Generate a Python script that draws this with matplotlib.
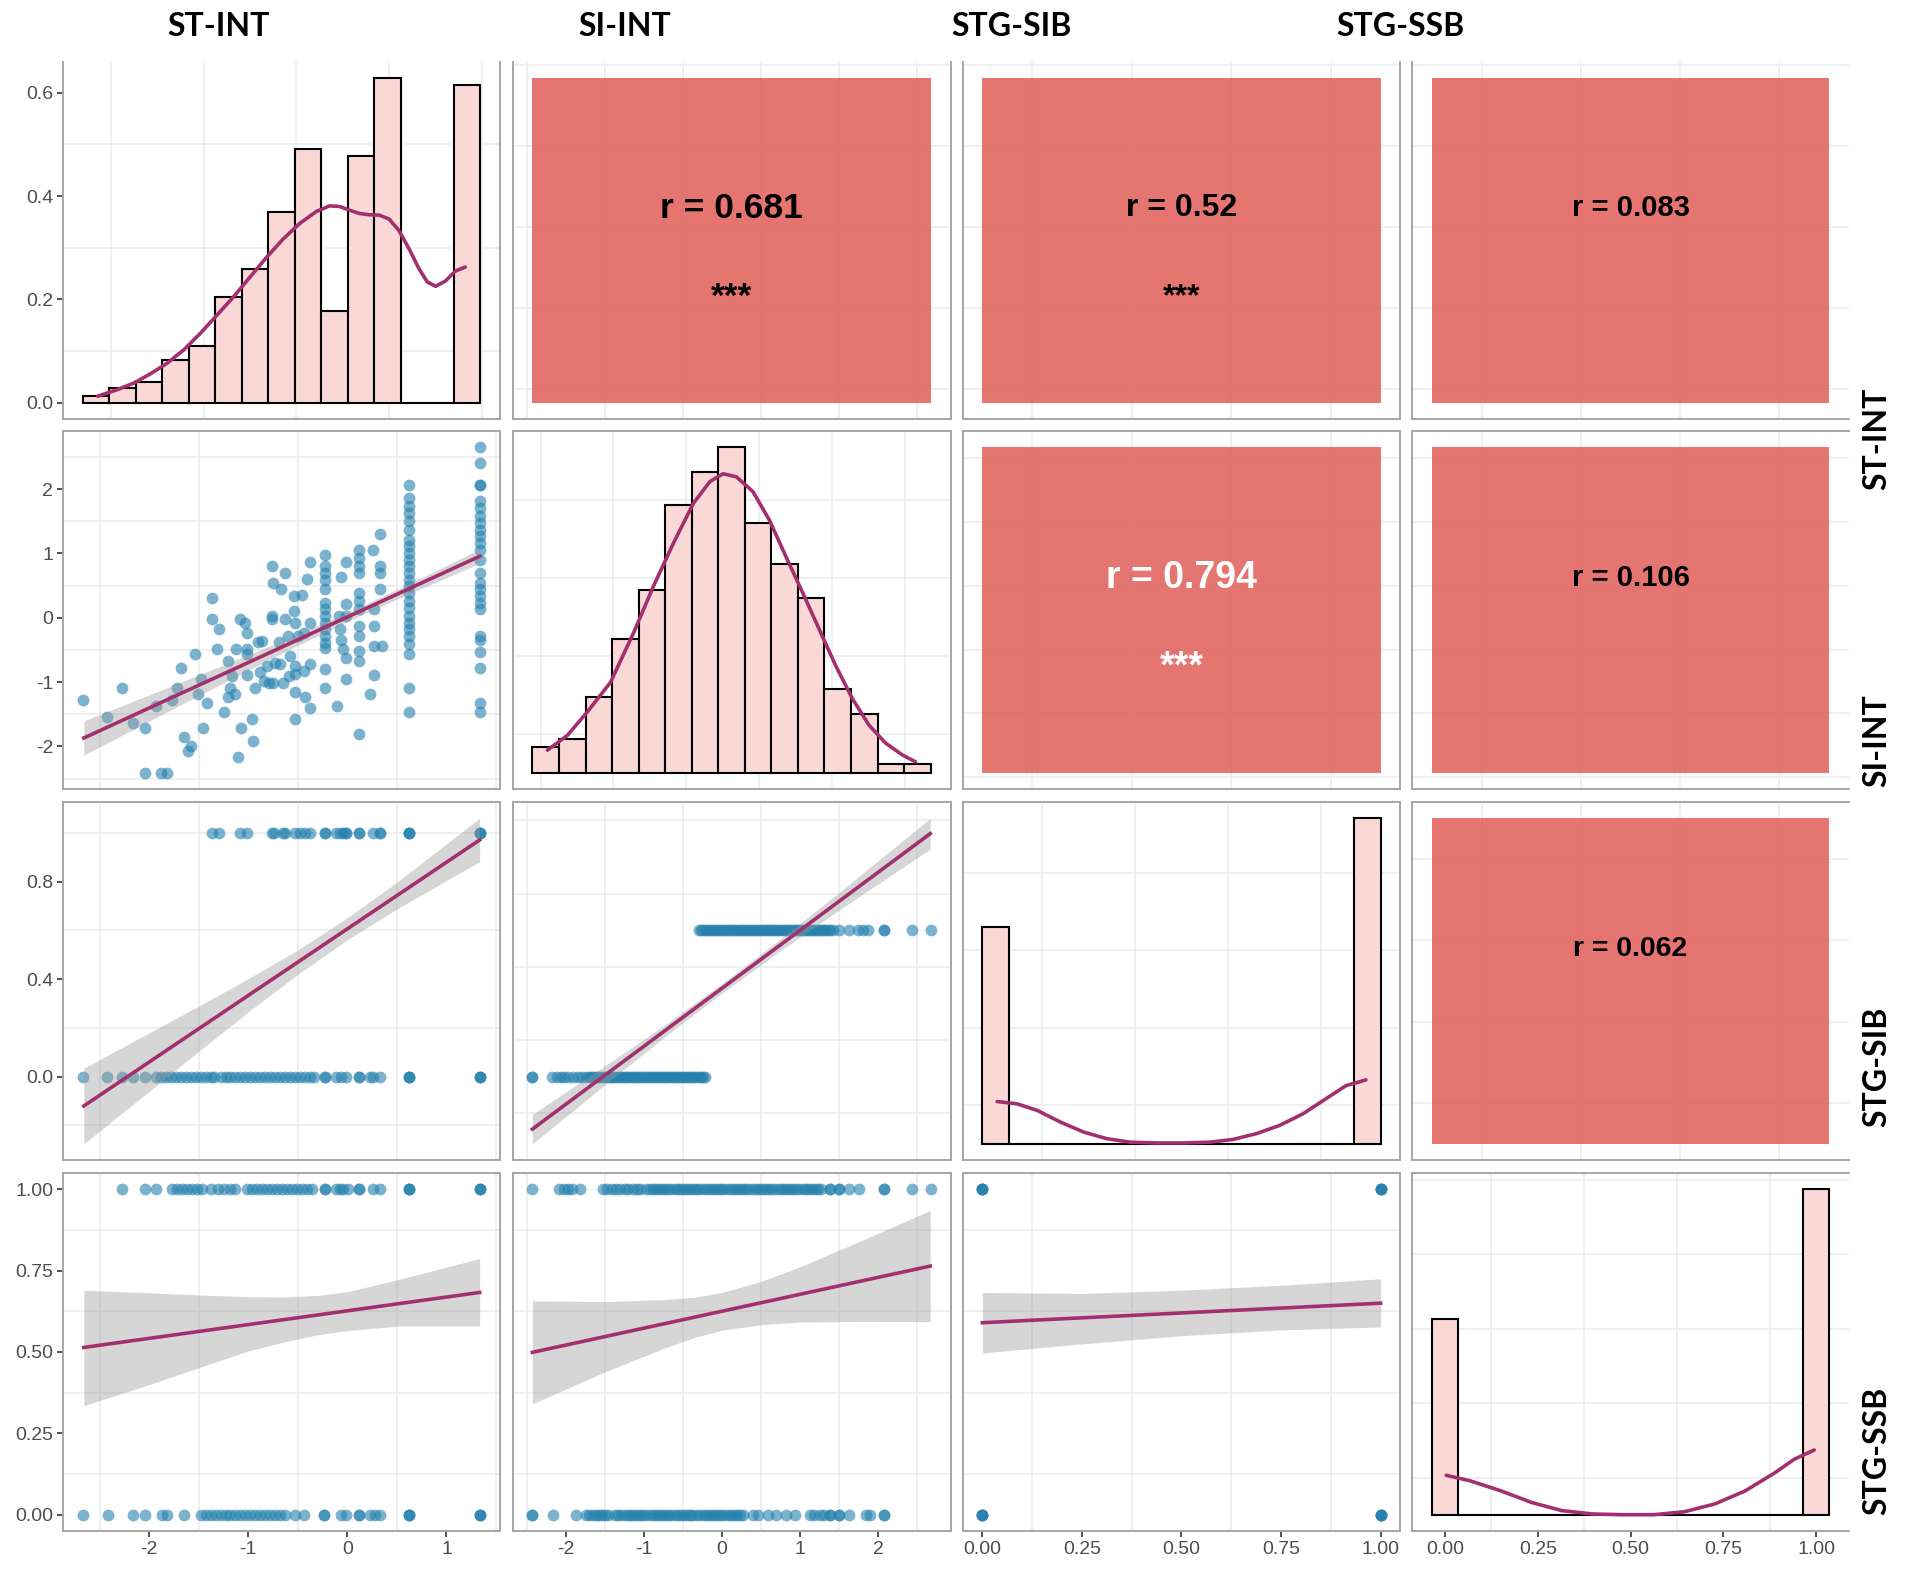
import matplotlib
matplotlib.use("Agg")
import matplotlib.pyplot as plt
from matplotlib import patches

# ---------------- data ----------------
var_names = ['ST-INT', 'SI-INT', 'STG-SIB', 'STG-SSB']

# axis breaks per variable
var_breaks = {
    'ST-INT': [-2, -1, 0, 1],
    'SI-INT': [-2, -1, 0, 1, 2],
    'STG-SIB': [0, 0.25, 0.5, 0.75, 1.0],
    'STG-SSB': [0, 0.25, 0.5, 0.75, 1.0],
}
x_tick_labels = [['-2', '-1', '0', '1'],
                 ['-2', '-1', '0', '1', '2'],
                 ['0.00', '0.25', '0.50', '0.75', '1.00'],
                 ['0.00', '0.25', '0.50', '0.75', '1.00']]
y_tick_values = [[0, 0.2, 0.4, 0.6],
                 [-2, -1, 0, 1, 2],
                 [0, 0.4, 0.8],
                 [0, 0.25, 0.5, 0.75, 1.0]]
y_tick_labels = [['0.0', '0.2', '0.4', '0.6'],
                 ['-2', '-1', '0', '1', '2'],
                 ['0.0', '0.4', '0.8'],
                 ['0.00', '0.25', '0.50', '0.75', '1.00']]
density_breaks = [[0, 0.2, 0.4, 0.6], [0, 0.1, 0.2, 0.3, 0.4], [0, 2, 4, 6, 8], [0, 2, 4, 6, 8]]

# histograms (density scale), 15 bins each
hist_left = [-2.803, -2.612, -0.0357, -0.0357]
hist_width = [0.2857, 0.3643, 0.0714, 0.0714]
hist_heights = [
    [0.014, 0.029, 0.040, 0.083, 0.110, 0.205, 0.259, 0.370, 0.492, 0.178, 0.478, 0.628, 0, 0, 0.615],
    [0.033, 0.043, 0.097, 0.172, 0.235, 0.344, 0.386, 0.418, 0.321, 0.268, 0.225, 0.108, 0.076, 0.011, 0.011],
    [5.59, 0, 0, 0, 0, 0, 0, 0, 0, 0, 0, 0, 0, 0, 8.41],
    [5.25, 0, 0, 0, 0, 0, 0, 0, 0, 0, 0, 0, 0, 0, 8.75],
]
dens_x = [
    [-2.643, -2.428, -2.250, -2.071, -1.892, -1.714, -1.535, -1.356, -1.178, -0.999, -0.820, -0.642,
     -0.463, -0.285, -0.142, -0.034, 0.073, 0.180, 0.287, 0.394, 0.501, 0.608, 0.716, 0.823, 0.912,
     1.002, 1.109, 1.216, 1.323],
    [-2.405, -2.132, -1.859, -1.541, -1.222, -0.949, -0.676, -0.403, -0.176, 0.006, 0.188, 0.415,
     0.643, 0.870, 1.098, 1.325, 1.553, 1.780, 2.008, 2.235, 2.463, 2.645],
    [0.004, 0.058, 0.112, 0.174, 0.237, 0.299, 0.362, 0.433, 0.504, 0.576, 0.638, 0.701, 0.763,
     0.826, 0.888, 0.942, 0.996],
    [0.003, 0.068, 0.151, 0.233, 0.315, 0.398, 0.480, 0.562, 0.645, 0.727, 0.809, 0.891, 0.941, 0.995],
]
dens_y = [
    [0.0128, 0.0256, 0.0384, 0.0564, 0.0768, 0.1025, 0.1345, 0.1697, 0.2049, 0.2434, 0.2818, 0.3170,
     0.3471, 0.3701, 0.3810, 0.3798, 0.3727, 0.3663, 0.3638, 0.3631, 0.3555, 0.3330, 0.2978, 0.2594,
     0.2338, 0.2254, 0.2357, 0.2549, 0.2626],
    [0.029, 0.048, 0.078, 0.116, 0.180, 0.240, 0.295, 0.346, 0.374, 0.384, 0.380, 0.361, 0.324,
     0.277, 0.231, 0.184, 0.137, 0.095, 0.061, 0.038, 0.023, 0.014],
    [1.09, 1.03, 0.86, 0.56, 0.30, 0.13, 0.04, 0.02, 0.02, 0.04, 0.11, 0.26, 0.47, 0.77, 1.16, 1.50, 1.65],
    [1.06, 0.91, 0.64, 0.33, 0.11, 0.02, 0.0, 0.0, 0.08, 0.29, 0.64, 1.14, 1.49, 1.74],
]

# ST-INT vs SI-INT
st_si_pairs = [
    (-2.67, -1.28), (-2.43, -1.54), (-2.27, -1.09), (-2.16, -1.63), (-2.04, -1.72), (-2.04, -2.41),
    (-1.93, -1.37), (-1.88, -2.41), (-1.82, -2.41), (-1.77, -1.28), (-1.72, -1.09), (-1.68, -0.78),
    (-1.65, -1.86), (-1.61, -2.07), (-1.58, -1.99), (-1.54, -0.57), (-1.51, -1.18), (-1.48, -0.96),
    (-1.46, -1.72), (-1.42, -1.33), (-1.37, 0.30), (-1.37, -0.02), (-1.32, -0.49), (-1.30, -0.18),
    (-1.25, -1.47), (-1.21, -0.67), (-1.20, -1.24), (-1.18, -1.09), (-1.16, -0.91), (-1.13, -1.18),
    (-1.12, -0.49), (-1.10, -2.16), (-1.08, -0.02), (-1.07, -1.72), (-1.03, -0.08), (-1.01, -0.23),
    (-1.01, -0.49), (-1.01, -0.57), (-1.01, -0.89), (-0.96, -1.58), (-0.95, -1.91), (-0.93, -1.09),
    (-0.90, -0.38), (-0.88, -0.85), (-0.86, -0.36), (-0.84, -0.98), (-0.81, -0.75), (-0.79, -1.01),
    (-0.76, 0.02), (-0.76, -0.02), (-0.76, 0.81), (-0.75, 0.54), (-0.75, -1.01), (-0.73, -0.70),
    (-0.69, -0.38), (-0.68, -0.72), (-0.67, 0.45), (-0.65, -1.01), (-0.63, 0.70), (-0.63, -0.02),
    (-0.60, -0.29), (-0.59, -0.91), (-0.58, -0.60), (-0.54, 0.10), (-0.54, 0.34), (-0.53, -0.75),
    (-0.53, -0.08), (-0.53, -1.16), (-0.53, -1.58), (-0.53, -0.88), (-0.50, -0.29), (-0.46, 0.36),
    (-0.44, -0.23), (-0.44, -0.83), (-0.43, -1.24), (-0.41, 0.60), (-0.38, 0.86), (-0.38, -0.08),
    (-0.38, -0.72), (-0.38, -1.40),
    (-0.23, 0.97), (-0.23, 0.80), (-0.23, 0.70), (-0.23, 0.59), (-0.23, 0.44), (-0.23, 0.23),
    (-0.23, 0.13), (-0.23, 0.02), (-0.23, -0.08), (-0.23, -0.18), (-0.23, -0.29), (-0.23, -0.39),
    (-0.23, -0.47), (-0.23, -0.80), (-0.23, -1.09),
    (-0.10, -1.38), (-0.08, 0.02), (-0.07, -0.18), (-0.06, 0.64), (-0.06, -0.34), (-0.04, -0.49),
    (-0.01, 0.02), (-0.01, 0.86), (-0.01, 0.21), (-0.01, -0.62), (-0.01, -0.96),
    (0.12, 1.06), (0.12, 0.93), (0.12, 0.80), (0.12, 0.70), (0.12, 0.39), (0.12, 0.26),
    (0.12, 0.13), (0.12, -0.13), (0.12, -0.29), (0.12, -0.52), (0.12, -0.67), (0.12, -1.81),
    (0.23, -1.18), (0.26, 1.06), (0.27, 0.14), (0.27, -0.13), (0.27, -0.44), (0.27, -0.89),
    (0.33, 1.30), (0.33, 0.80), (0.33, 0.70), (0.33, 0.45), (0.35, -0.44),
    (0.62, 2.06), (0.62, 1.86), (0.62, 1.73), (0.62, 1.63), (0.62, 1.50), (0.62, 1.37),
    (0.62, 1.21), (0.62, 1.11), (0.62, 1.01), (0.62, 0.90), (0.62, 0.80), (0.62, 0.70),
    (0.62, 0.59), (0.62, 0.49), (0.62, 0.39), (0.62, 0.26), (0.62, 0.15), (0.62, 0.02),
    (0.62, -0.08), (0.62, -0.18), (0.62, -0.29), (0.62, -0.41), (0.62, -0.57), (0.62, -1.09),
    (0.62, -1.47),
    (1.34, 2.65), (1.34, 2.41), (1.34, 2.06), (1.34, 2.06), (1.34, 1.81), (1.34, 1.70),
    (1.34, 1.58), (1.34, 1.47), (1.34, 1.37), (1.34, 1.27), (1.34, 1.16), (1.34, 1.06),
    (1.34, 0.90), (1.34, 0.70), (1.34, 0.54), (1.34, 0.44), (1.34, 0.34), (1.34, 0.23),
    (1.34, 0.13), (1.34, -0.29), (1.34, -0.34), (1.34, -0.54), (1.34, -0.78), (1.34, -1.32),
    (1.34, -1.47),
]

# ST-INT by STG-SIB group
st_sib1 = [-1.37, -1.30, -1.08, -1.01, -0.76, -0.74, -0.65, -0.63, -0.53, -0.48, -0.43, -0.38,
           -0.23, -0.23, -0.11, -0.07, -0.04, -0.01, -0.01, 0.12, 0.12, 0.26, 0.33, 0.33,
           0.62, 0.62, 0.62, 1.34, 1.34, 1.34]
st_sib0 = [-2.67, -2.43, -2.27, -2.16, -2.04, -1.93, -1.88, -1.83, -1.78, -1.73, -1.68, -1.63,
           -1.58, -1.53, -1.48, -1.43, -1.38, -1.35, -1.28, -1.23, -1.18, -1.13, -1.08, -1.03,
           -0.98, -0.93, -0.88, -0.83, -0.78, -0.73, -0.68, -0.63, -0.58, -0.53, -0.48, -0.43,
           -0.38, -0.34, -0.23, -0.23, -0.11, -0.06, -0.01, 0.12, 0.12, 0.23, 0.26, 0.33,
           0.62, 0.62, 0.62, 1.34, 1.34, 1.34]
# ST-INT by STG-SSB group
st_ssb1 = [-2.27, -2.04, -1.93, -1.77, -1.72, -1.67, -1.62, -1.57, -1.52, -1.47, -1.38, -1.31,
           -1.25, -1.18, -1.13, -1.01, -0.96, -0.91, -0.86, -0.81, -0.76, -0.71, -0.66, -0.61,
           -0.56, -0.51, -0.46, -0.41, -0.36, -0.23, -0.23, -0.11, -0.07, -0.04, 0.01, 0.12,
           0.12, 0.26, 0.33, 0.62, 0.62, 0.62, 1.34, 1.34, 1.34]
st_ssb0 = [-2.67, -2.42, -2.16, -2.04, -1.87, -1.82, -1.65, -1.48, -1.43, -1.38, -1.33, -1.28,
           -1.23, -1.18, -1.13, -1.08, -1.03, -0.98, -0.93, -0.88, -0.83, -0.78, -0.73, -0.68,
           -0.63, -0.53, -0.44, -0.24, -0.24, -0.06, -0.01, 0.12, 0.12, 0.23, 0.28, 0.33,
           0.62, 0.62, 0.62, 1.34, 1.34, 1.34]

# SI-INT by STG-SIB group
si_sib0 = [-2.43, -2.43, -2.18, -2.12, -2.07, -2.02, -1.97, -1.91, -1.85, -1.80,
           -1.74, -1.71, -1.68, -1.65, -1.62, -1.59, -1.56, -1.53, -1.50, -1.47, -1.44, -1.41,
           -1.38, -1.35, -1.32, -1.29, -1.26, -1.23, -1.20, -1.17, -1.14, -1.11, -1.08, -1.05,
           -1.02, -0.99, -0.96, -0.93, -0.90, -0.87, -0.84, -0.81, -0.78, -0.75, -0.72, -0.69,
           -0.66, -0.63, -0.60, -0.57, -0.54, -0.51, -0.48, -0.45, -0.42, -0.39, -0.36, -0.33,
           -0.30, -0.27, -0.24, -0.22]
si_sib1 = [-0.30, -0.27, -0.24, -0.21, -0.18, -0.15, -0.12, -0.09, -0.06, -0.03, 0.00, 0.03,
           0.06, 0.09, 0.12, 0.15, 0.18, 0.21, 0.24, 0.27, 0.30, 0.33, 0.36, 0.39, 0.42, 0.45,
           0.48, 0.51, 0.54, 0.57, 0.60, 0.63, 0.66, 0.69, 0.72, 0.75, 0.78, 0.81, 0.84, 0.87,
           0.90, 0.93, 0.96, 0.99, 1.02, 1.05, 1.08, 1.11, 1.14, 1.17, 1.20, 1.23, 1.26, 1.29,
           1.32, 1.35, 1.38, 1.42, 1.50, 1.63, 1.74, 1.80, 1.87, 2.07, 2.07, 2.43, 2.67]
# SI-INT by STG-SSB group
si_ssb1 = [-2.43, -2.09, -2.03, -1.97, -1.92, -1.82, -1.52, -1.47, -1.41, -1.36, -1.31, -1.25,
           -1.20, -1.14, -1.09, -1.05,
           -0.97, -0.93, -0.89, -0.85, -0.81, -0.77, -0.73, -0.69, -0.65, -0.61, -0.57, -0.53,
           -0.49, -0.45, -0.41, -0.37, -0.33, -0.29, -0.25, -0.21, -0.17, -0.13, -0.09, -0.05,
           -0.01, 0.03, 0.07, 0.11, 0.15, 0.19, 0.23, 0.27, 0.31, 0.35, 0.39, 0.43, 0.47, 0.51,
           0.55, 0.59, 0.63, 0.67, 0.71, 0.75, 0.79, 0.83, 0.87, 0.91, 0.95, 0.99, 1.03, 1.07,
           1.11, 1.15, 1.19, 1.23, 1.27, 1.38, 1.38, 1.50, 1.50, 1.63, 1.75, 2.07, 2.07, 2.43, 2.67]
si_ssb0 = [-2.43, -2.43, -2.17, -1.87,
           -1.74, -1.70, -1.66, -1.62, -1.58, -1.54, -1.50, -1.46,
           -1.37, -1.33, -1.29, -1.25, -1.21, -1.17, -1.13, -1.09, -1.05, -1.01, -0.97, -0.93,
           -0.89, -0.85, -0.81, -0.77, -0.73, -0.69, -0.65, -0.61, -0.57, -0.53, -0.49, -0.45,
           -0.41, -0.39,
           -0.33, -0.29, -0.25, -0.21, -0.17, -0.13, -0.09, -0.05, -0.01, 0.03, 0.07, 0.11,
           0.15, 0.19, 0.23, 0.27,
           0.40, 0.46, 0.59, 0.69, 0.82, 0.93, 1.12, 1.18, 1.25, 1.31, 1.38, 1.38, 1.50, 1.50,
           1.63, 1.84, 1.89, 2.07, 2.07]
# STG-SIB vs STG-SSB (many overlapping subjects at each corner)
sib_ssb_pairs = [(0, 0)] * 4 + [(0, 1)] * 4 + [(1, 0)] * 4 + [(1, 1)] * 4

# which lists go to each lower panel (row, col)
scatter_data = {
    (1, 0): ([p[0] for p in st_si_pairs], [p[1] for p in st_si_pairs]),
    (2, 0): (st_sib0 + st_sib1, [0] * len(st_sib0) + [1] * len(st_sib1)),
    (2, 1): (si_sib0 + si_sib1, [0] * len(si_sib0) + [1] * len(si_sib1)),
    (3, 0): (st_ssb0 + st_ssb1, [0] * len(st_ssb0) + [1] * len(st_ssb1)),
    (3, 1): (si_ssb0 + si_ssb1, [0] * len(si_ssb0) + [1] * len(si_ssb1)),
    (3, 2): ([p[0] for p in sib_ssb_pairs], [p[1] for p in sib_ssb_pairs]),
}

# linear fits: end points and confidence band (x, lower, upper)
fit_lines = {
    (1, 0): ([-2.66, 1.335], [-1.87, 0.955]),
    (2, 0): ([-2.66, 1.335], [-0.120, 0.971]),
    (2, 1): ([-2.43, 2.665], [-0.357, 1.660]),
    (3, 0): ([-2.66, 1.335], [0.514, 0.683]),
    (3, 1): ([-2.43, 2.665], [0.499, 0.764]),
    (3, 2): ([0.0, 1.0], [0.590, 0.650]),
}
fit_band = {
    (1, 0): ([-2.66, -2.0, -1.5, -1.0, -0.5, 0.0, 0.5, 1.0, 1.335],
             [-2.136, -1.608, -1.210, -0.816, -0.428, -0.059, 0.289, 0.623, 0.845],
             [-1.604, -1.198, -0.890, -0.576, -0.258, 0.081, 0.439, 0.813, 1.065]),
    (2, 0): ([-2.66, -2.0, -1.5, -1.0, -0.5, 0.0, 0.5, 1.0, 1.335],
             [-0.275, -0.060, 0.104, 0.266, 0.420, 0.562, 0.688, 0.805, 0.882],
             [0.035, 0.180, 0.290, 0.402, 0.520, 0.652, 0.798, 0.955, 1.060]),
    (2, 1): ([-2.43, -1.5, -0.75, 0.0, 0.75, 1.5, 2.665],
             [-0.457, -0.054, 0.268, 0.573, 0.862, 1.139, 1.555],
             [-0.257, 0.076, 0.348, 0.637, 0.942, 1.259, 1.765]),
    (3, 0): ([-2.66, -2.0, -1.48, -1.0, -0.64, -0.3, 0.0, 0.53, 1.335],
             [0.335, 0.400, 0.454, 0.503, 0.531, 0.553, 0.566, 0.580, 0.580],
             [0.690, 0.682, 0.675, 0.670, 0.669, 0.674, 0.685, 0.724, 0.787]),
    (3, 1): ([-2.43, -1.5, -0.75, -0.35, 0.0, 0.5, 1.0, 1.8, 2.665],
             [0.341, 0.439, 0.511, 0.545, 0.567, 0.584, 0.592, 0.594, 0.593],
             [0.657, 0.655, 0.661, 0.668, 0.683, 0.717, 0.762, 0.844, 0.935]),
    (3, 2): ([0.0, 0.25, 0.5, 0.75, 1.0],
             [0.497, 0.525, 0.550, 0.568, 0.577],
             [0.683, 0.680, 0.690, 0.705, 0.725]),
}

# correlations in the upper panels
corr_r = {(0, 1): 'r = 0.681', (0, 2): 'r = 0.52', (0, 3): 'r = 0.083',
          (1, 2): 'r = 0.794', (1, 3): 'r = 0.106', (2, 3): 'r = 0.062'}
corr_stars = {(0, 1): '***', (0, 2): '***', (1, 2): '***'}

# ---------------- styles ----------------
corr_size = {(0, 1): 25.5, (0, 2): 23, (0, 3): 21, (1, 2): 27, (1, 3): 21, (2, 3): 20.5}
corr_text_color = {(1, 2): 'white'}
point_color = '#2480AD'
line_color = '#A2306E'
hist_fill = '#F9D8D6'
corr_fill = '#E26B66'
grid_color = '#EBEBEB'
border_color = '#A6A6A6'

W, H = 1911, 1569
col_px = [(63, 500), (512.5, 950.5), (962.5, 1400.5), (1412, 1849)]
row_px = [(62, 419), (431, 789), (802, 1160), (1173, 1531)]

plt.rcParams['font.family'] = ['Liberation Sans', 'DejaVu Sans']
fig = plt.figure(figsize=(W / 100, H / 100), dpi=100)


def expand(vals):
    lo, hi = min(vals), max(vals)
    pad = 0.05 * (hi - lo)
    return lo - pad, hi + pad


def minor_of(breaks, lim):
    step = breaks[1] - breaks[0]
    cand = [breaks[0] - step / 2] + [b + step / 2 for b in breaks]
    return [c for c in cand if lim[0] < c < lim[1]]


var_lo_hi = {
    'ST-INT': (min(p[0] for p in st_si_pairs), max(p[0] for p in st_si_pairs)),
    'SI-INT': (min(si_sib0 + si_sib1), max(si_sib0 + si_sib1)),
    'STG-SIB': (0, 1),
    'STG-SSB': (0, 1),
}

for i in range(4):
    for j in range(4):
        x0, x1 = col_px[j]
        y0, y1 = row_px[i]
        ax = fig.add_axes([x0 / W, 1 - y1 / H, (x1 - x0) / W, (y1 - y0) / H])
        xb = var_breaks[var_names[j]]
        yb = var_breaks[var_names[i]]

        if i == j:
            edges = [hist_left[i] + k * hist_width[i] for k in range(16)]
            xlim = expand(edges + dens_x[i])
            ylim = expand([0] + hist_heights[i] + dens_y[i])
            yb = density_breaks[i]
            ax.bar(edges[:-1], hist_heights[i], width=hist_width[i], align='edge',
                   color=hist_fill, edgecolor='black', linewidth=1.5, zorder=2)
            ax.plot(dens_x[i], dens_y[i], color=line_color, lw=2.6, zorder=3,
                    solid_capstyle='round', solid_joinstyle='round')
        elif i > j:
            px, py = scatter_data[(i, j)]
            lx, ly = fit_lines[(i, j)]
            bx, blo, bhi = fit_band[(i, j)]
            xlim = expand(px + lx + bx)
            ylim = expand(py + ly + blo + bhi)
            if (i, j) == (2, 0):
                yb = [0, 0.4, 0.8]
            elif (i, j) == (2, 1):
                yb = [0, 0.5, 1.0, 1.5]
            ax.scatter(px, py, s=72, color=point_color, alpha=0.6, linewidths=0, zorder=2)
            ax.fill_between(bx, blo, bhi, color='#999999', alpha=0.4, lw=0, zorder=3)
            ax.plot(lx, ly, color=line_color, lw=2.6, zorder=4)
        else:
            cx = var_lo_hi[var_names[j]]
            cy = var_lo_hi[var_names[i]]
            xlim = expand(list(cx))
            ylim = expand(list(cy))
            ax.add_patch(patches.Rectangle((cx[0], cy[0]), cx[1] - cx[0], cy[1] - cy[0],
                                           facecolor=corr_fill, edgecolor='none',
                                           alpha=0.93, zorder=2))
            tc = corr_text_color.get((i, j), 'black')
            ax.text(0.5, 0.59, corr_r[(i, j)], transform=ax.transAxes, ha='center',
                    va='center', fontsize=corr_size[(i, j)], fontweight='bold', color=tc,
                    zorder=3)
            if (i, j) in corr_stars:
                ax.text(0.5, 0.34, corr_stars[(i, j)], transform=ax.transAxes, ha='center',
                        va='center', fontsize=corr_size[(i, j)], fontweight='bold', color=tc,
                        zorder=3)

        ax.set_xlim(xlim)
        ax.set_ylim(ylim)
        for g in minor_of(xb, xlim):
            ax.axvline(g, color=grid_color, lw=1.1, zorder=0)
        for g in minor_of(yb, ylim):
            ax.axhline(g, color=grid_color, lw=1.1, zorder=0)

        ax.set_facecolor('white')
        for side, sp in ax.spines.items():
            sp.set_color(border_color)
            sp.set_linewidth(1.4)
        if i == 0:
            ax.spines['top'].set_visible(False)
        if j == 3:
            ax.spines['right'].set_visible(False)

        ax.tick_params(length=4, width=1.2, color='#333333', labelcolor='#4D4D4D',
                       labelsize=14, pad=3)
        if i == 3:
            ax.set_xticks(var_breaks[var_names[j]])
            ax.set_xticklabels(x_tick_labels[j])
        else:
            ax.set_xticks([])
        if j == 0:
            ax.set_yticks(y_tick_values[i])
            ax.set_yticklabels(y_tick_labels[i])
        else:
            ax.set_yticks([])

# strip labels
title_x = [219, 625, 1011, 1400]
for name, tx in zip(var_names, title_x):
    fig.text(tx / W, 1 - 27 / H, name, ha='center', va='center', fontsize=23,
             fontweight='bold', family=['Lato', 'DejaVu Sans'])
side_y = [439, 741, 1067, 1451]
for name, sy in zip(var_names, side_y):
    fig.text(1877 / W, 1 - sy / H, name, ha='center', va='center', fontsize=23,
             fontweight='bold', rotation=90, family=['Lato', 'DejaVu Sans'])

fig.savefig('out.png', dpi=100, facecolor='white')
